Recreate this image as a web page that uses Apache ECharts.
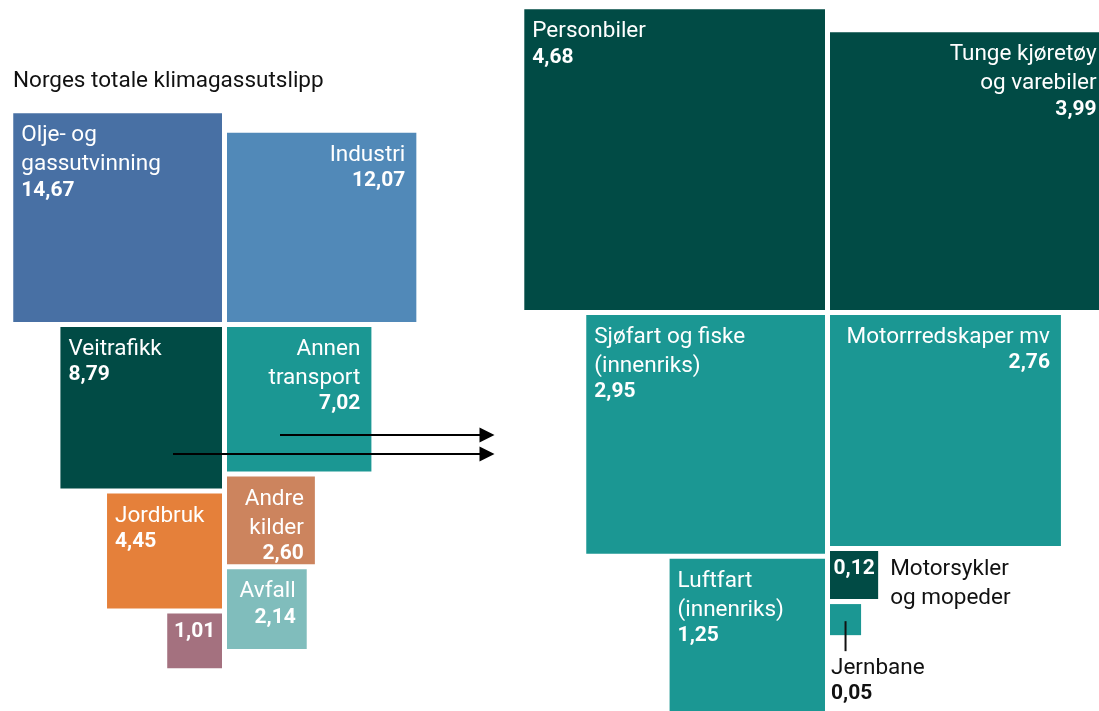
<!DOCTYPE html>
<html lang="no">
<head>
<meta charset="UTF-8">
<title>Norges totale klimagassutslipp</title>
<script src="https://cdn.jsdelivr.net/npm/echarts/dist/echarts.min.js"></script>
<style>
  body { margin: 0; background: #fff; }
  #main { width: 1099px; height: 711px; }
</style>
</head>
<body>
<div id="main"></div>
<script type="text/javascript">
// Norges totale klimagassutslipp (mill. tonn CO2-ekv.)
var totalNames = ['Olje- og\ngassutvinning', 'Industri', 'Veitrafikk', 'Annen\ntransport', 'Jordbruk', 'Andre\nkilder', 'Avfall', ''];
var totalValues = [14.67, 12.07, 8.79, 7.02, 4.45, 2.60, 2.14, 1.01];

// transport brutt ned
var transportNames = ['Personbiler', 'Tunge kjøretøy\nog varebiler', 'Sjøfart og fiske\n(innenriks)', 'Motorrredskaper mv', 'Luftfart\n(innenriks)', 'Motorsykler\nog mopeder', 'Jernbane'];
var transportValues = [4.68, 3.99, 2.95, 2.76, 1.25, 0.12, 0.05];

// farger og hvilken side av midtlinja hver rute legges
var totalColors = ['#4870a4', '#5189b8', '#014b45', '#1b9793', '#e5803a', '#cc845e', '#80bdbc', '#a4717f'];
var totalSides = ['L', 'R', 'L', 'R', 'L', 'R', 'R', 'L'];
var transportColors = ['#014b45', '#014b45', '#1b9793', '#1b9793', '#1b9793', '#014b45', '#1b9793'];
var transportSides = ['L', 'R', 'L', 'R', 'L', 'R', 'R'];

var FONT = 'Roboto, "Noto Sans", sans-serif';
var GAP = 5;

// ruter med areal proporsjonalt med verdien, stablet rundt et midtpunkt
function layoutSquares(values, sides, k, cx, cy) {
    var top = {L: false, R: false};
    var next = {L: cy + GAP / 2, R: cy + GAP / 2};
    return values.map(function (v, i) {
        var s = k * Math.sqrt(v);
        var side = sides[i];
        var x = side === 'L' ? cx - GAP / 2 - s : cx + GAP / 2;
        var y;
        if (!top[side]) {
            top[side] = true;
            y = cy - GAP / 2 - s;
        } else {
            y = next[side];
            next[side] += s + GAP;
        }
        return [x, y, s, v, i];
    });
}

function fmt(v) {
    return v.toFixed(2).replace('.', ',');
}

function richStyle(color) {
    return {
        n: {fontSize: 22.5, lineHeight: 29, fontFamily: FONT, fill: color},
        v: {fontSize: 21, lineHeight: 22, fontFamily: FONT, fontWeight: 'bold', fill: color}
    };
}

function makeRender(names, colors, sides) {
    return function (params, api) {
        var i = api.value(4);
        var v = api.value(3);
        var p = api.coord([api.value(0), api.value(1)]);
        var sz = api.size([api.value(2), api.value(2)]);
        var x = p[0], y = p[1], w = sz[0], h = sz[1];
        var name = names[i];
        var children = [{
            type: 'rect',
            shape: {x: x, y: y, width: w, height: h},
            style: {fill: colors[i]}
        }];
        var nameRich = name ? name.split('\n').map(function (l) { return '{n|' + l + '}'; }) : [];

        if (w < 40) {
            // for liten: etikett under med strek
            var lx = x + w * 0.5;
            children.push({
                type: 'line',
                shape: {x1: lx, y1: y + h * 0.55, x2: lx, y2: y + h + 16},
                style: {stroke: '#111', lineWidth: 2}
            });
            children.push({
                type: 'text',
                style: {
                    text: nameRich.concat(['{v|' + fmt(v) + '}']).join('\n'),
                    x: x + 1, y: y + h + 19, align: 'left', verticalAlign: 'top',
                    rich: richStyle('#111')
                }
            });
        } else if (w < 60) {
            children.push({
                type: 'text',
                style: {
                    text: '{v|' + fmt(v) + '}',
                    x: x + w / 2, y: y + 7, align: 'center', verticalAlign: 'top',
                    rich: richStyle('#fff')
                }
            });
            if (name) {
                children.push({
                    type: 'text',
                    style: {
                        text: nameRich.join('\n'),
                        x: x + w + 12, y: y + 4, align: 'left', verticalAlign: 'top',
                        rich: richStyle('#111')
                    }
                });
            }
        } else {
            var right = sides[i] === 'R';
            children.push({
                type: 'text',
                style: {
                    text: nameRich.concat(['{v|' + fmt(v) + '}']).join('\n'),
                    x: right ? x + w - 11 : x + 8, y: y + 8,
                    align: right ? 'right' : 'left', verticalAlign: 'top',
                    rich: richStyle('#fff')
                }
            });
        }
        return {type: 'group', children: children};
    };
}

var totalData = layoutSquares(totalValues, totalSides, 54.5, 224.5, 324.5);
var transportData = layoutSquares(transportValues, transportSides, 139, 827.5, 312.5);

// piler fra transport-rutene over til utsnittet
var arrows = [
    [[280, 435], [487, 435]],
    [[173, 454], [487, 454]]
];

var myChart = echarts.init(document.getElementById('main'));

var option = {
    animation: false,
    title: {
        text: 'Norges totale klimagassutslipp',
        left: 13,
        top: 70,
        padding: 0,
        textStyle: {fontFamily: FONT, fontSize: 22.5, fontWeight: 'normal', color: '#111'}
    },
    grid: {left: 0, right: 0, top: 0, bottom: 0},
    xAxis: {type: 'value', min: 0, max: 1099, show: false},
    yAxis: {type: 'value', min: 0, max: 711, inverse: true, show: false},
    series: [
        {
            type: 'custom',
            name: 'Totalt',
            data: totalData,
            encode: {x: 0, y: 1},
            renderItem: makeRender(totalNames, totalColors, totalSides),
            silent: true
        },
        {
            type: 'custom',
            name: 'Transport',
            data: transportData,
            encode: {x: 0, y: 1},
            renderItem: makeRender(transportNames, transportColors, transportSides),
            silent: true
        },
        {
            type: 'lines',
            coordinateSystem: 'cartesian2d',
            z: 5,
            silent: true,
            symbol: ['none', 'triangle'],
            symbolSize: [16, 15],
            lineStyle: {color: '#000', width: 2, opacity: 1},
            data: arrows.map(function (a) { return {coords: a}; })
        }
    ]
};

myChart.setOption(option);
</script>
</body>
</html>
